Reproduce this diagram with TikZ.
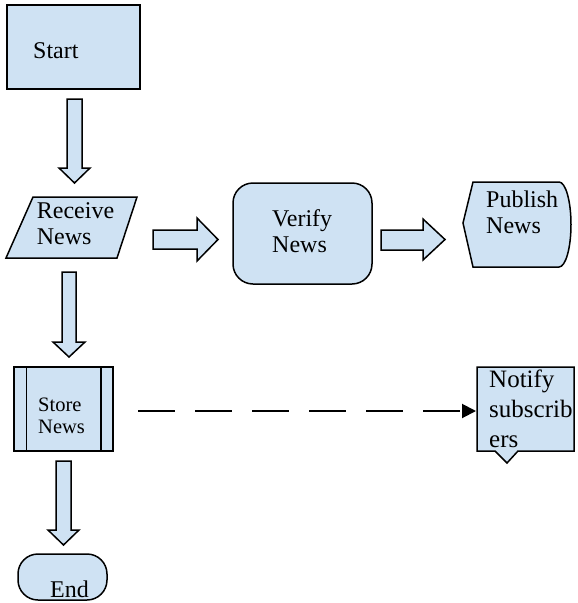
\documentclass[tikz,border=0pt]{standalone}
\usepackage{fontspec}
\setmainfont{Liberation Serif}
\usetikzlibrary{arrows.meta}
\definecolor{boxfill}{RGB}{207,226,243}
\begin{document}
\begin{tikzpicture}[x=1pt, y=-1pt,
    box/.style={draw, line width=1.5pt, fill=boxfill},
    blockarrow/.style={draw, line width=1.5pt, fill=boxfill, line join=miter},
    txt/.style={inner sep=0pt, align=left, font=\fontsize{24}{26}\selectfont},
    flow/.style={line width=2pt, dash pattern=on 37pt off 20pt, -{Triangle[length=14pt,width=14pt]}}
]
    \useasboundingbox (0,0) rectangle (578,603);

    % Start
    \node[box, minimum width=133pt, minimum height=84pt] (start) at (73.5,47) {};
    \node[txt, anchor=base west] (starttext) at (33,58) {Start};

    % Freccia giu 1
    \draw[blockarrow] (67,99) -- (82,99) -- (82,168) -- (90,168) -- (74.5,183) -- (59,168) -- (67,168) -- cycle;

    % Receive News
    \draw[box] (33,197) -- (137,197) -- (117,258) -- (6,258) -- cycle;
    \node[txt] (receive) at (75.5,223.8) {Receive\\News};

    % Freccia destra 1
    \draw[blockarrow] (153,230) -- (197,230) -- (197,218) -- (218,239.5) -- (197,261) -- (197,249) -- (153,249) -- cycle;

    % Verify News
    \node[box, rounded corners=20pt, minimum width=139pt, minimum height=101pt] (verify) at (302.5,233.5) {};
    \node[txt, anchor=west] (verifytext) at (272,231.3) {Verify\\News};

    % Freccia destra 2
    \draw[blockarrow] (381,230) -- (423,230) -- (423,219) -- (445,239.5) -- (423,260) -- (423,250) -- (381,250) -- cycle;

    % Publish News
    \draw[box] (473,182) -- (559,182) arc[start angle=-90, end angle=90, x radius=12, y radius=42.5] -- (473,267) -- (463,223) -- cycle;
    \node[txt, anchor=west] (publish) at (486,211.8) {Publish\\News};

    % Freccia giu 2
    \draw[blockarrow] (62,272) -- (76,272) -- (76,342) -- (85,342) -- (69,357) -- (53,342) -- (62,342) -- cycle;

    % Store News
    \node[box, minimum width=99pt, minimum height=84pt] (store) at (63.5,409) {};
    \draw[line width=1.5pt] ([xshift=13pt]store.north west) -- ([xshift=13pt]store.south west)
        ([xshift=-13pt]store.north east) -- ([xshift=-13pt]store.south east);
    \node[txt, font=\fontsize{20.5}{22}\selectfont, anchor=west] (storetext) at (38,416.2) {Store\\News};

    % Freccia giu 3
    \draw[blockarrow] (56,461) -- (71,461) -- (71,530) -- (79,530) -- (63.5,545) -- (48,530) -- (56,530) -- cycle;

    % End
    \node[box, rounded corners=20pt, minimum width=89pt, minimum height=46pt] (finish) at (62.5,577) {};
    \node[txt, anchor=base west] (finishtext) at (50,597) {End};

    % Notify subscribers
    \draw[box] (477,367) -- (574,367) -- (574,451) -- (518,451) -- (507,463) -- (495,451) -- (477,451) -- cycle;
    \node[txt, font=\fontsize{25}{30}\selectfont, anchor=west] (notify) at (489,408.5) {Notify\\subscrib\\ers};

    % Freccia tratteggiata
    \coordinate (storeout) at (138,411);
    \coordinate (notifyin) at (476,411);
    \draw[flow] (storeout) -- (notifyin);
\end{tikzpicture}
\end{document}
